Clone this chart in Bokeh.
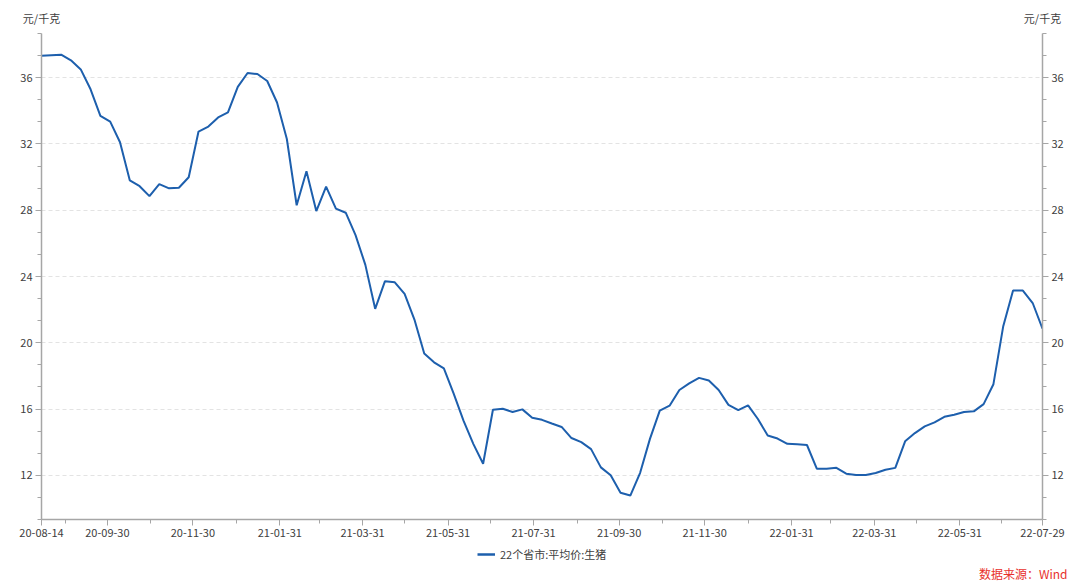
from datetime import datetime
import pandas as pd
from bokeh.plotting import figure
from bokeh.layouts import column
from bokeh.models import (Range1d, LinearAxis, DatetimeAxis, FixedTicker, DatetimeTickFormatter,
                          CustomJSTickFormatter, Title, Legend, LegendItem, ColumnDataSource)
from bokeh.embed import file_html
from bokeh.resources import INLINE

# ---------------- data ----------------
series_name = "22个省市:平均价:生猪"
start_date = "2020-08-14"
end_date = "2022-07-29"
dates = pd.date_range(start_date, end_date, freq="7D")  # weekly (Friday) observations
prices = [
    37.33, 37.36, 37.39, 37.05, 36.5, 35.3, 33.7, 33.35, 32.1, 29.8,
    29.45, 28.85, 29.58, 29.32, 29.36, 29.99, 32.75, 33.05, 33.6, 33.9,
    35.45, 36.28, 36.22, 35.8, 34.5, 32.3, 28.3, 30.35, 27.95, 29.43,
    28.1, 27.85, 26.5, 24.7, 22.05, 23.72, 23.65, 22.95, 21.4, 19.35,
    18.82, 18.45, 16.93, 15.3, 13.9, 12.7, 15.96, 16.02, 15.82, 15.98,
    15.48, 15.35, 15.13, 14.92, 14.25, 14.0, 13.58, 12.48, 12.0, 10.95,
    10.78, 12.15, 14.2, 15.9, 16.2, 17.15, 17.55, 17.88, 17.72, 17.15,
    16.25, 15.93, 16.22, 15.4, 14.4, 14.22, 13.9, 13.87, 13.83, 12.4,
    12.4, 12.45, 12.1, 12.02, 12.02, 12.14, 12.34, 12.45, 14.05, 14.55,
    14.95, 15.2, 15.53, 15.66, 15.82, 15.86, 16.3, 17.5, 21.0, 23.15,
    23.15, 22.4, 20.85,
]
x_tick_dates = ["2020-08-14", "2020-09-30", "2020-11-30", "2021-01-31", "2021-03-31",
                "2021-05-31", "2021-07-31", "2021-09-30", "2021-11-30", "2022-01-31",
                "2022-03-31", "2022-05-31", "2022-07-29"]
x_minor_dates = ["2020-08-31", "2020-10-31", "2020-12-31", "2021-02-28", "2021-04-30",
                 "2021-06-30", "2021-08-31", "2021-10-31", "2021-12-31", "2022-02-28",
                 "2022-04-30", "2022-06-30"]
y_ticks = [12, 16, 20, 24, 28, 32, 36]
unit_label = "元/千克"
source_label = "数据来源：Wind"

# ---------------- style ----------------
FONT = "Noto Sans CJK SC"
LINE_COLOR = "#1d5fad"
AXIS_COLOR = "#a6a6a6"
TEXT_COLOR = "#404040"

def ms(d):
    return pd.Timestamp(d).value / 1e6

y_lo, y_hi = 12 - 8 / 3, 36 + 8 / 3
x_lo, x_hi = pd.Timestamp(start_date), pd.Timestamp(end_date)

p = figure(width=1080, height=545, output_backend="svg", toolbar_location=None,
           x_axis_type="datetime", x_range=Range1d(x_lo, x_hi),
           y_range=Range1d(y_lo, y_hi),
           min_border_left=41, min_border_right=38, min_border_top=33, min_border_bottom=26)
p.outline_line_color = None
p.background_fill_color = "white"
p.border_fill_color = "white"

src = ColumnDataSource(dict(x=dates, y=prices))
r = p.line("x", "y", source=src, line_color=LINE_COLOR, line_width=2)

# x axis
xa = p.xaxis[0]
xa.ticker = FixedTicker(ticks=[ms(d) for d in x_tick_dates],
                        minor_ticks=[ms(d) for d in x_minor_dates])
fmt = "%y-%m-%d"
xa.formatter = DatetimeTickFormatter(milliseconds=fmt, seconds=fmt, minsec=fmt, minutes=fmt,
                                     hourmin=fmt, hours=fmt, days=fmt, months=fmt, years=fmt)

minor_y = [y_lo + k * 4 / 3 for k in range(23)]
ya = p.yaxis[0]
ya.ticker = FixedTicker(ticks=y_ticks, minor_ticks=minor_y)
ra = LinearAxis(ticker=FixedTicker(ticks=y_ticks, minor_ticks=minor_y))
p.add_layout(ra, "right")

for ax in [xa, ya, ra]:
    ax.axis_line_color = AXIS_COLOR
    ax.axis_line_width = 1.5
    ax.major_tick_line_color = AXIS_COLOR
    ax.minor_tick_line_color = AXIS_COLOR
    ax.major_tick_in = 0
    ax.major_tick_out = 6
    ax.minor_tick_in = 0
    ax.minor_tick_out = 4
    ax.major_label_text_font = FONT
    ax.major_label_text_font_size = "11px"
    ax.major_label_text_color = TEXT_COLOR
    ax.major_label_standoff = 3

p.xgrid.grid_line_color = None
p.ygrid.ticker = FixedTicker(ticks=y_ticks)
p.ygrid.grid_line_color = "#e3e3e3"
p.ygrid.grid_line_dash = "4 3"
p.ygrid.grid_line_width = 1

# unit labels above both value axes (as labels of an undecorated top axis)
ta = DatetimeAxis(ticker=FixedTicker(ticks=[ms(x_lo), ms(x_hi)], minor_ticks=[]),
                  formatter=CustomJSTickFormatter(args=dict(lbl=unit_label), code="return lbl;"),
                  axis_line_color=None, major_tick_line_color=None, minor_tick_line_color=None,
                  major_tick_out=0, major_tick_in=0, minor_tick_out=0, minor_tick_in=0,
                  major_label_standoff=8, major_label_text_font=FONT,
                  major_label_text_font_size="11px", major_label_text_color=TEXT_COLOR)
p.add_layout(ta, "above")

# ---------------- footer strip: legend + source note ----------------
f = figure(width=1080, height=36, output_backend="svg", toolbar_location=None,
           x_range=Range1d(0, 1), y_range=Range1d(0, 1),
           x_axis_location=None, y_axis_location=None,
           min_border_left=41, min_border_right=38,
           min_border_top=0, min_border_bottom=17)
f.outline_line_color = None
f.xgrid.grid_line_color = None
f.ygrid.grid_line_color = None
f.background_fill_color = "white"
f.border_fill_color = "white"
# same series, drawn outside this strip's visible range: only its legend sample shows
sample = f.line("x", "y", source=src, line_color=LINE_COLOR, line_width=2.5)

legend = Legend(items=[LegendItem(label=series_name, renderers=[sample])],
                location=(436, 0), orientation="horizontal",
                border_line_color=None, background_fill_alpha=0,
                padding=0, margin=0, spacing=0,
                glyph_width=18, glyph_height=12, label_standoff=5,
                label_text_font=FONT, label_text_font_size="11px",
                label_text_color=TEXT_COLOR)
f.add_layout(legend)

f.add_layout(Title(text=source_label, align="right", offset=-25, standoff=0,
                   text_font=FONT, text_font_size="12px", text_font_style="normal",
                   text_color="#e8302c"), "below")

layout = column(p, f, spacing=0)
open("out.html", "w").write(file_html(layout, INLINE))
